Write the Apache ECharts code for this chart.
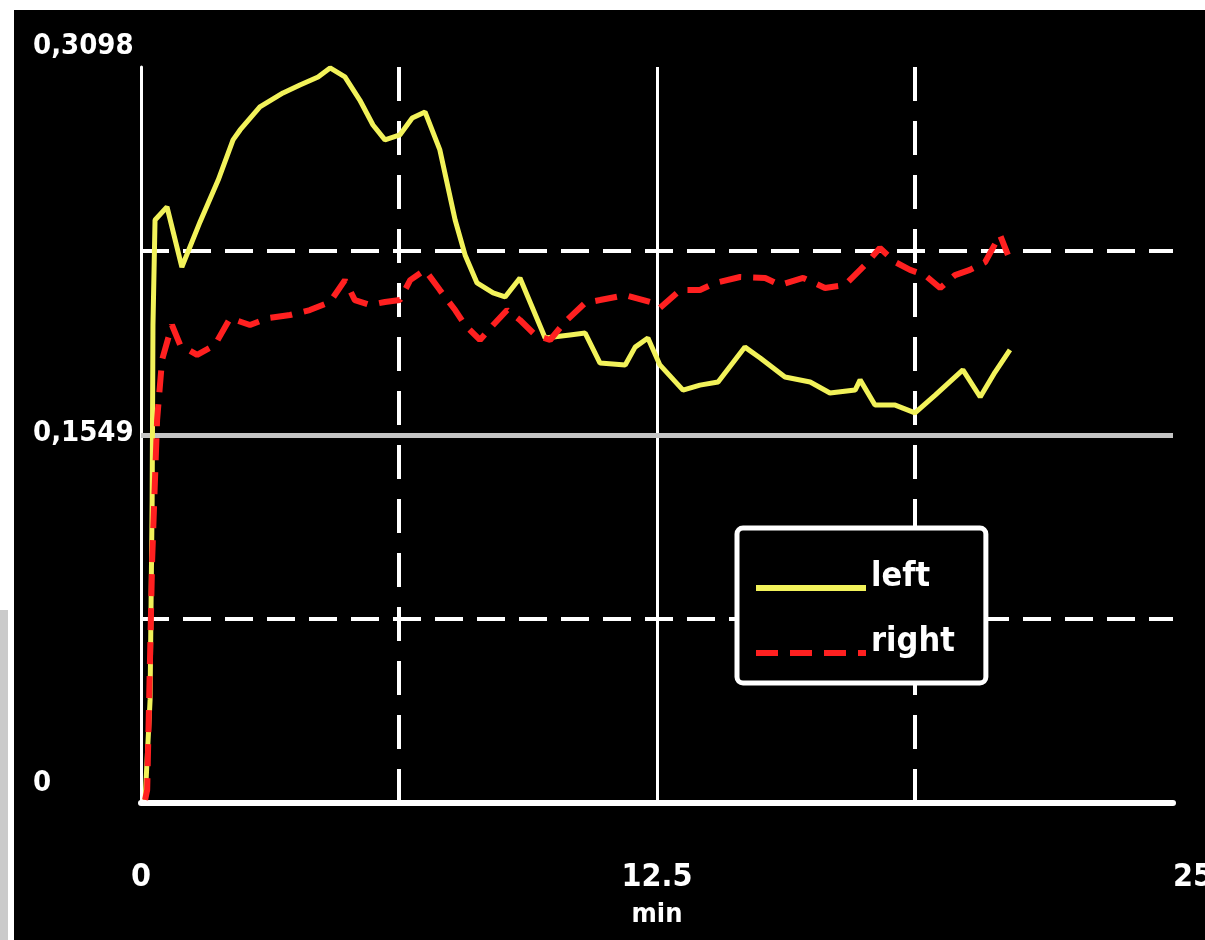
<!DOCTYPE html>
<html>
<head>
<meta charset="utf-8">
<title>left / right</title>
<script src="https://cdn.jsdelivr.net/npm/echarts@6/dist/echarts.min.js"></script>
<style>
  html, body { margin: 0; padding: 0; background: #fff; width: 1205px; height: 940px; overflow: hidden; }
  #strip { position: absolute; left: 0; top: 610px; width: 8px; height: 330px; background: #cacaca; }
  #chart { position: absolute; left: 14px; top: 10px; width: 1191px; height: 930px; }
</style>
</head>
<body>
<div id="strip"></div>
<div id="chart"></div>
<script>
// values (x in min)
const leftMin = [0.1, 0.22, 0.27, 0.29, 0.34, 0.63, 0.99, 1.43, 1.87, 2.23, 2.4, 2.88, 3.44, 3.85, 4.29, 4.58, 4.94, 5.3, 5.62, 5.91, 6.27, 6.57, 6.88, 7.24, 7.61, 7.85, 8.14, 8.53, 8.82, 9.18, 9.79, 10.39, 10.76, 11.12, 11.73, 11.97, 12.28, 12.57, 13.13, 13.54, 13.98, 14.63, 15.0, 15.6, 16.21, 16.69, 17.3, 17.42, 17.78, 18.27, 18.75, 19.24, 19.91, 20.33, 20.69, 21.05];
const leftVal = [0.0013, 0.0434, 0.1275, 0.2012, 0.2454, 0.2509, 0.2256, 0.2446, 0.2622, 0.2791, 0.2833, 0.293, 0.2989, 0.3022, 0.3056, 0.3094, 0.3056, 0.2959, 0.2854, 0.2791, 0.2812, 0.2883, 0.2909, 0.2749, 0.2454, 0.2307, 0.2189, 0.2147, 0.213, 0.221, 0.1957, 0.197, 0.1978, 0.1852, 0.1844, 0.1919, 0.1957, 0.1844, 0.1738, 0.1759, 0.1772, 0.1919, 0.1873, 0.1793, 0.1772, 0.1726, 0.1738, 0.1781, 0.1675, 0.1675, 0.1642, 0.1717, 0.1823, 0.1709, 0.1814, 0.1907];

const rightMin = [0.1, 0.15, 0.27, 0.39, 0.51, 0.75, 0.95, 1.36, 1.79, 2.16, 2.64, 3.08, 3.61, 4.09, 4.58, 4.94, 5.18, 5.55, 5.91, 6.27, 6.52, 6.88, 7.24, 7.61, 7.85, 8.21, 8.53, 8.87, 9.18, 9.55, 9.91, 10.27, 10.76, 11.12, 11.73, 12.33, 12.57, 13.06, 13.54, 13.91, 14.51, 15.12, 15.48, 16.04, 16.57, 17.05, 17.54, 17.9, 18.27, 18.63, 18.99, 19.36, 19.72, 20.08, 20.45, 20.81, 21.0];
const rightVal = [0.0013, 0.0055, 0.1023, 0.1612, 0.1865, 0.2012, 0.1928, 0.1886, 0.1928, 0.2041, 0.2012, 0.2041, 0.2054, 0.2075, 0.2109, 0.2201, 0.2117, 0.2096, 0.2109, 0.2117, 0.2201, 0.2244, 0.2159, 0.2075, 0.2012, 0.1949, 0.2012, 0.2075, 0.2033, 0.197, 0.1949, 0.2025, 0.2105, 0.2117, 0.2138, 0.2109, 0.2084, 0.2159, 0.2159, 0.2189, 0.2214, 0.221, 0.218, 0.221, 0.2168, 0.218, 0.2265, 0.2336, 0.2277, 0.2244, 0.2222, 0.2168, 0.2222, 0.2244, 0.2277, 0.2391, 0.2307];

// axes and reference lines
const xTicks = [0, 12.5, 25];
const xTickLabels = ["0", "12.5", "25"];
const yTicks = [0, 0.1549, 0.3098];
const yTickLabels = ["0", "0,1549", "0,3098"];
const xDashed = [6.25, 18.75];
const xSolid = [12.5];
const yDashed = [0.07745, 0.23235];
const ySolid = [0.1549];

const FONT = "'DejaVu Sans Condensed', 'DejaVu Sans', sans-serif";

const chart = echarts.init(document.getElementById("chart"));

const refLines = [
  ...xDashed.map((v) => ({ xAxis: v, lineStyle: { color: "#fff", width: 4, type: [34, 20] } })),
  ...xSolid.map((v) => ({ xAxis: v, lineStyle: { color: "#fff", width: 3, type: "solid" } })),
  ...yDashed.map((v) => ({ yAxis: v, lineStyle: { color: "#fff", width: 4, type: [28, 14] } })),
  ...ySolid.map((v) => ({ yAxis: v, lineStyle: { color: "#c4c4c4", width: 5, type: "solid" } })),
];

const labelStyle = (size, pad) => ({
  color: "#fff",
  fontFamily: FONT,
  fontWeight: "bold",
  fontSize: size,
  padding: pad,
});

const option = {
  backgroundColor: "#000",
  animation: false,
  // fixed grid box, labels are allowed to run off the edge like in the picture
  grid: { left: 127, right: 32, top: 57, bottom: 137, containLabel: false, outerBoundsMode: "none" },
  legend: {
    data: ["left", "right"],
    orient: "vertical",
    left: 723,
    top: 518,
    z: 10,
    itemWidth: 110,
    itemHeight: 14,
    itemGap: 9,
    itemTextGap: 16,
    padding: [32, 31, 2, 16],
    backgroundColor: "#000",
    borderColor: "#fff",
    borderWidth: 5,
    borderRadius: 6,
    itemStyle: { opacity: 0 },
    lineStyle: { width: 6 },
    formatter: "{t|{name}}",
    textStyle: {
      color: "#fff",
      rich: {
        t: { color: "#fff", fontFamily: FONT, fontWeight: "bold", fontSize: 34, lineHeight: 34, padding: [0, 0, 22, 0] },
      },
    },
  },
  xAxis: {
    type: "value",
    min: 0,
    max: 25,
    interval: 12.5,
    name: "min",
    nameLocation: "middle",
    nameGap: 98,
    nameTextStyle: { color: "#fff", fontFamily: FONT, fontWeight: "bold", fontSize: 27, lineHeight: 27 },
    axisLine: { show: true, lineStyle: { color: "#fff", width: 6 } },
    axisTick: { show: false },
    splitLine: { show: false },
    axisLabel: {
      color: "#fff",
      fontFamily: FONT,
      fontWeight: "bold",
      fontSize: 32,
      lineHeight: 32,
      margin: 59,
      alignMaxLabel: "left",
      formatter: (v) => {
        const i = xTicks.findIndex((t) => Math.abs(t - v) < 1e-6);
        return i < 0 ? "" : xTickLabels[i];
      },
    },
  },
  yAxis: {
    type: "value",
    min: 0,
    max: 0.3098,
    interval: 0.1549,
    axisLine: { show: true, lineStyle: { color: "#fff", width: 3 } },
    axisTick: { show: false },
    splitLine: { show: false },
    axisLabel: {
      color: "#fff",
      align: "left",
      margin: 108,
      fontFamily: FONT,
      fontWeight: "bold",
      fontSize: 29,
      formatter: (v) => {
        const i = yTicks.findIndex((t) => Math.abs(t - v) < 1e-6);
        if (i < 0) return "";
        const key = ["zero", "mid", "top"][i];
        return "{" + key + "|" + yTickLabels[i] + "}";
      },
      rich: {
        zero: labelStyle(29, [0, 0, 40, 0]),
        mid: labelStyle(29, [0, 0, 4, 0]),
        top: labelStyle(29, [0, 0, 42, 0]),
      },
    },
  },
  series: [
    {
      // dashed / solid reference lines, kept behind the curves and the legend
      name: "grid",
      type: "line",
      data: [],
      silent: true,
      z: 1,
      markLine: {
        z: 1,
        silent: true,
        precision: 6,
        symbol: ["none", "none"],
        label: { show: false },
        emphasis: { disabled: true },
        data: refLines,
      },
    },
    {
      name: "left",
      type: "line",
      z: 3,
      symbol: "none",
      showSymbol: false,
      color: "#f2f25a",
      lineStyle: { color: "#f2f25a", width: 5 },
      data: leftMin.map((m, i) => [m, leftVal[i]]),
    },
    {
      name: "right",
      type: "line",
      z: 4,
      symbol: "none",
      showSymbol: false,
      color: "#ff2020",
      lineStyle: { color: "#ff2020", width: 6, type: [22, 12] },
      data: rightMin.map((m, i) => [m, rightVal[i]]),
    },
  ],
};

chart.setOption(option);
</script>
</body>
</html>
